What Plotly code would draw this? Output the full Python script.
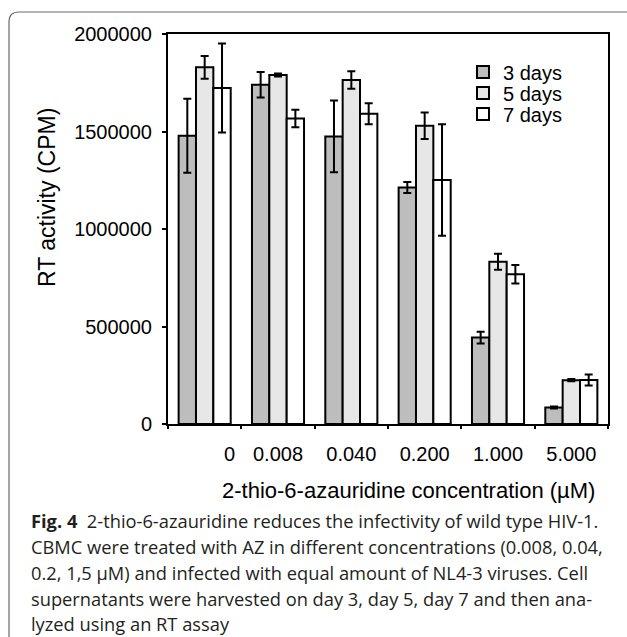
import plotly.graph_objects as go

# ---------------- data ----------------
categories = ["0", "0.008", "0.040", "0.200", "1.000", "5.000"]
tick_labels = ["\u00a0" * 9 + "0", "0.008", "0.040", "0.200", "1.000", "5.000"]
series_names = ["3 days", "5 days", "7 days"]
day3 = [1478000, 1740000, 1475000, 1213000, 443000, 85000]
day3_err = [190000, 65000, 184000, 28000, 30000, 5000]
day5 = [1829000, 1790000, 1764000, 1530000, 832000, 225000]
day5_err = [58000, 8000, 45000, 68000, 41000, 6000]
day7 = [1723000, 1567000, 1591000, 1251000, 768000, 226000]
day7_err = [228000, 45000, 54000, 286000, 47000, 28000]
y_ticks = [0, 500000, 1000000, 1500000, 2000000]
x_title = "2-thio-6-azauridine concentration (\u00b5M)"
y_title = "RT activity (CPM)"
caption_lines = [
    "<b>Fig. 4</b>\u00a0\u00a02-thio-6-azauridine reduces the infectivity of wild type HIV-1.",
    "CBMC were treated with AZ in different concentrations (0.008, 0.04,",
    "0.2, 1,5 \u00b5M) and infected with equal amount of NL4-3 viruses. Cell",
    "supernatants were harvested on day 3, day 5, day 7 and then ana-",
    "lyzed using an RT assay",
]

# ---------------- layout geometry (pixels) ----------------
W, H = 627, 637
L, R, T, B = 168, 608, 34, 424


def px(x):
    return (x - L) / (R - L)


def py(y):
    return (B - y) / (B - T)


FONT = "Liberation Sans, Arial, sans-serif"
CAP_FONT = "Open Sans, sans-serif"
fills = ["#bdbdbd", "#e6e7e6", "#ffffff"]
legend_ids = ["legend", "legend2", "legend3"]
legend_rows = [72, 93, 114]

fig = go.Figure()
for name, vals, errs, col, lid in zip(series_names, [day3, day5, day7],
                                      [day3_err, day5_err, day7_err], fills,
                                      legend_ids):
    fig.add_trace(go.Bar(
        x=categories, y=vals, name=name, legend=lid,
        marker=dict(color=col, line=dict(color="black", width=2)),
        error_y=dict(type="data", array=errs, visible=True,
                     color="black", thickness=2, width=4),
    ))

legend_style = {}
for lid, row in zip(legend_ids, legend_rows):
    legend_style[lid] = dict(x=px(463), y=py(row), xanchor="left",
                             yanchor="middle", font=dict(size=20, family=FONT),
                             bgcolor="rgba(0,0,0,0)", itemwidth=30)

fig.update_layout(
    width=W, height=H,
    margin=dict(l=L, r=W - R, t=T, b=H - B, pad=0),
    paper_bgcolor="white", plot_bgcolor="white",
    barmode="group", bargap=0.29, bargroupgap=0,
    font=dict(family=FONT, color="black"),
    showlegend=True,
    **legend_style,
    xaxis=dict(type="category", categoryarray=categories,
               tickvals=categories, ticktext=tick_labels, tickangle=0,
               tickson="boundaries", ticks="outside", ticklen=3, tickwidth=2,
               tickcolor="black", showline=True, linecolor="black",
               linewidth=2, mirror=True, showgrid=False, zeroline=False,
               tickfont=dict(size=20, family=FONT), ticklabelstandoff=11),
    yaxis=dict(range=[0, 2000000], tickvals=y_ticks, tickformat="d",
               ticks="outside", ticklen=4, tickwidth=2, tickcolor="black",
               showline=True, linecolor="black", linewidth=2, mirror=True,
               showgrid=False, zeroline=False,
               tickfont=dict(size=20, family=FONT), ticklabelstandoff=6),
    xaxis2=dict(overlaying="x", side="top", range=[0, 6], tickvals=[1, 2, 3, 4, 5],
                ticks="inside", ticklen=5, tickwidth=2, tickcolor="black",
                showticklabels=False, showgrid=False, zeroline=False,
                showline=False),
    yaxis2=dict(overlaying="y", side="right", range=[0, 2000000],
                tickvals=y_ticks[1:-1], ticks="inside", ticklen=5, tickwidth=2,
                tickcolor="black", showticklabels=False, showgrid=False,
                zeroline=False, showline=False),
)

annotations = [
    dict(text=x_title, x=px(408), y=py(490), xref="paper", yref="paper",
         showarrow=False, xanchor="center", yanchor="middle",
         font=dict(size=22, family=FONT, color="black")),
    dict(text=y_title, x=px(47), y=py(197), xref="paper", yref="paper",
         showarrow=False, xanchor="center", yanchor="middle", textangle=-90,
         font=dict(size=23, family=FONT, color="black")),
]
cap_y = [520, 546, 572, 598, 623]
for line, yy in zip(caption_lines, cap_y):
    annotations.append(dict(
        text=line, x=px(29), y=py(yy), xref="paper", yref="paper",
        showarrow=False, xanchor="left", yanchor="middle",
        font=dict(size=18.3, family=CAP_FONT, color="#231f20")))
fig.update_layout(annotations=annotations)

# rounded frame around figure + caption
x0, y0, rr = 9, 12, 10
x1, y1 = 640, 650
path = (f"M{px(x0)},{py(y1)} L{px(x0)},{py(y0 + rr)} "
        f"Q{px(x0)},{py(y0)} {px(x0 + rr)},{py(y0)} L{px(x1)},{py(y0)}")
fig.add_shape(type="path", path=path, xref="paper", yref="paper",
              line=dict(color="#6a6a6a", width=1.2), layer="below")

fig.write_html(
    "out.html",
    config={"displayModeBar": False},
    post_script="document.body.style.margin='0px';"
                "document.body.style.overflow='hidden';",
)
